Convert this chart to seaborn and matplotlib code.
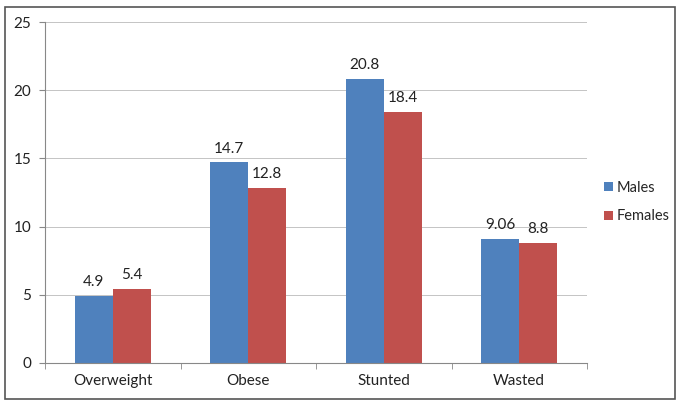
import pandas as pd
import matplotlib.pyplot as plt
import seaborn as sns
from matplotlib.patches import Rectangle

categories = ['Overweight', 'Obese', 'Stunted', 'Wasted']
males = [4.9, 14.7, 20.8, 9.06]
females = [5.4, 12.8, 18.4, 8.8]
male_labels = ['4.9', '14.7', '20.8', '9.06']
female_labels = ['5.4', '12.8', '18.4', '8.8']

df = pd.DataFrame({
    'Category': categories * 2,
    'Value': males + females,
    'Sex': ['Males'] * 4 + ['Females'] * 4,
})

sns.set_style('white')
plt.rcParams['font.family'] = ['Lato', 'DejaVu Sans']

fig = plt.figure(figsize=(6.81, 4.04), dpi=100)
ax = fig.add_axes([45 / 681, 1 - 363 / 404, 542 / 681, 341 / 404])

sns.barplot(data=df, x='Category', y='Value', hue='Sex',
            palette=['#4F81BD', '#C0504D'], width=0.56, saturation=1,
            linewidth=0, ax=ax, legend=True)

for cont, labs in zip(ax.containers, [male_labels, female_labels]):
    ax.bar_label(cont, labels=labs, padding=5, fontsize=11, color='#222222')

ax.set_ylim(0, 25)
ax.set_yticks(range(0, 26, 5))
ax.yaxis.grid(True, color='#C4C4C4', linewidth=0.7)
ax.set_axisbelow(True)
ax.set_xlabel('')
ax.set_ylabel('')
for s in ['top', 'right']:
    ax.spines[s].set_visible(False)
for s in ['left', 'bottom']:
    ax.spines[s].set_color('#888888')
    ax.spines[s].set_linewidth(0.8)
ax.tick_params(axis='both', labelsize=11, colors='#222222')
ax.tick_params(axis='y', length=4, color='#888888', direction='out', left=True, pad=6)
ax.set_xticks([-0.5, 0.5, 1.5, 2.5, 3.5], minor=True)
ax.tick_params(axis='x', which='major', length=0, pad=8)
ax.tick_params(axis='x', which='minor', length=4, color='#888888', bottom=True)
ax.set_xlim(-0.5, 3.5)

leg = ax.legend(loc='center left', bbox_to_anchor=(604 / 681, 1 - 202 / 404),
                bbox_transform=fig.transFigure, frameon=False, fontsize=10.5,
                handlelength=0.6, handleheight=0.6, handletextpad=0.3,
                labelspacing=1.0, borderpad=0, borderaxespad=0)

fig.patches.append(Rectangle((5 / 681, 5 / 404), 670 / 681, 392 / 404,
                             transform=fig.transFigure, fill=False,
                             edgecolor='#555555', linewidth=1.2))

fig.savefig('out.png', dpi=100)
